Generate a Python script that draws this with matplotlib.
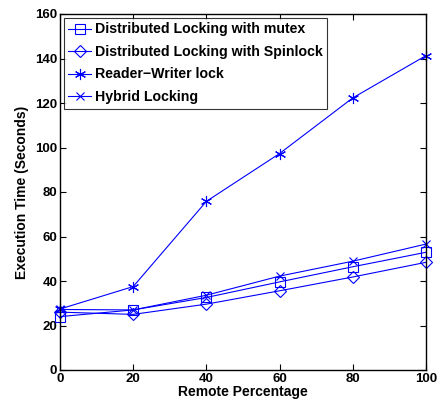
import matplotlib
matplotlib.use('Agg')
import matplotlib.pyplot as plt

plt.rcParams['font.family'] = ['Liberation Sans', 'DejaVu Sans']
plt.rcParams['font.weight'] = 'bold'

remote = [0, 20, 40, 60, 80, 100]
mutex = [24, 27, 32.6, 39.6, 46.4, 52.9]
spinlock = [26, 25, 29.6, 35.6, 41.8, 48.4]
rwlock = [27.4, 37.5, 75.8, 97.3, 122.3, 141.3]
hybrid = [27.2, 27, 33.6, 42.2, 48.9, 56.6]

fig = plt.figure(figsize=(4.39, 4.09), dpi=100)
ax = fig.add_axes([60/439, 1 - 370/409, 366/439, 356/409])

blue = '#0000ff'
ax.plot(remote, mutex, color=blue, lw=0.8, marker='s', ms=7, mfc='none', mec=blue, mew=0.8,
        label='Distributed Locking with mutex', clip_on=False)
ax.plot(remote, spinlock, color=blue, lw=0.8, marker='D', ms=6.5, mfc='none', mec=blue, mew=0.8,
        label='Distributed Locking with Spinlock', clip_on=False)
ax.plot(remote, rwlock, color=blue, lw=0.8, marker=(6, 2, 0), ms=8, mec=blue, mew=0.8,
        label='Reader\u2212Writer lock', clip_on=False)
ax.plot(remote, hybrid, color=blue, lw=0.8, marker='x', ms=6, mec=blue, mew=0.8,
        label='Hybrid Locking', clip_on=False)

ax.set_xlim(0, 100)
ax.set_ylim(0, 160)
ax.set_xticks(remote)
ax.set_yticks(range(0, 161, 20))
ax.tick_params(direction='in', top=True, right=True, labelsize=9.5, length=4, width=0.8, pad=2)
for lab in ax.get_xticklabels() + ax.get_yticklabels():
    lab.set_fontweight('bold')
for sp in ax.spines.values():
    sp.set_linewidth(1.0)

ax.set_xlabel('Remote Percentage', fontsize=10, fontweight='bold', labelpad=0)
ax.set_ylabel('Execution Time (Seconds)', fontsize=10, fontweight='bold', labelpad=4)

leg = ax.legend(loc='upper left', fontsize=10.2, frameon=True, fancybox=False, edgecolor='black',
                handlelength=1.6, handletextpad=0.25, borderaxespad=0.25, labelspacing=0.6,
                borderpad=0.35)
leg.get_frame().set_linewidth(0.8)
for t in leg.get_texts():
    t.set_fontweight('bold')

fig.savefig('out.png', dpi=100)
